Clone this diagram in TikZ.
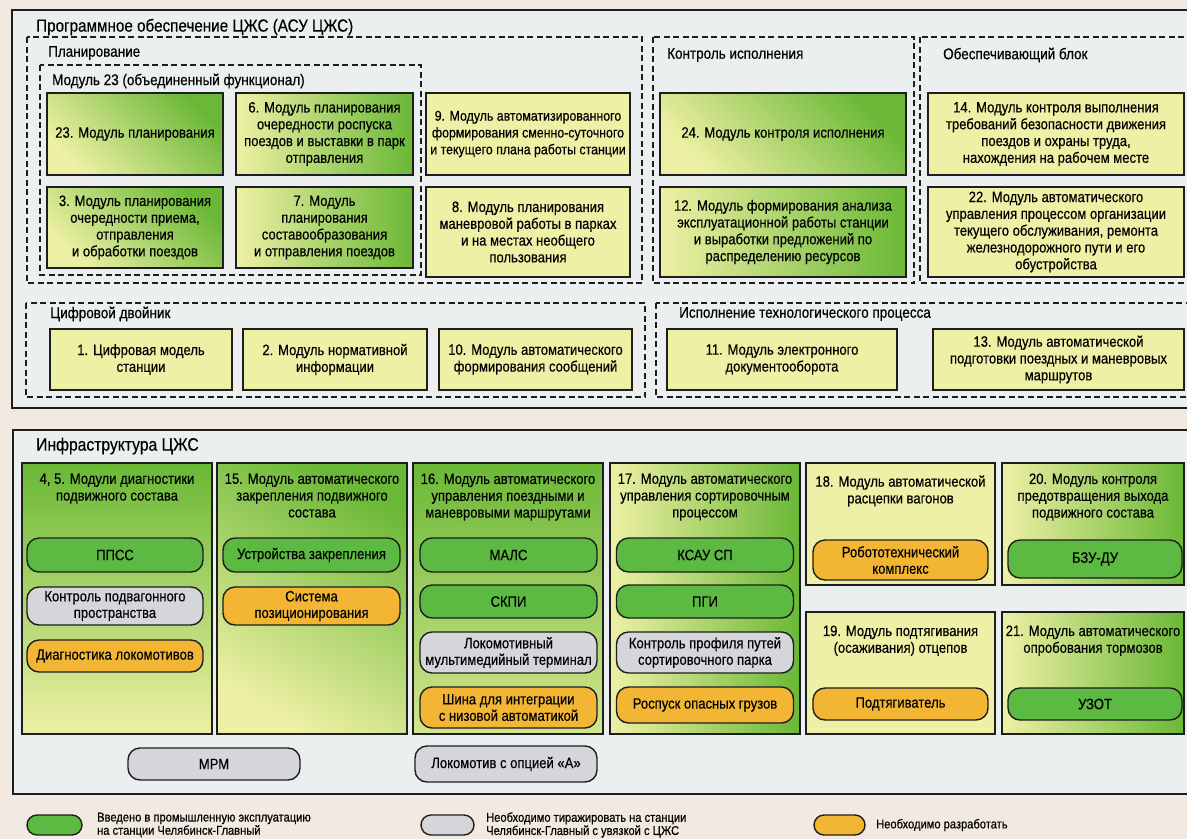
\documentclass[tikz,border=0pt]{standalone}
\usepackage{fontspec}
\setmainfont{Liberation Sans}[FakeStretch=0.87,FakeBold=0.4]
\usetikzlibrary{positioning}

\definecolor{paper}{RGB}{242,233,224}
\definecolor{panel}{RGB}{236,239,239}
\definecolor{boxyellow}{RGB}{238,240,165}
\definecolor{boxgreen}{RGB}{106,184,54}
\definecolor{pillgreen}{RGB}{92,186,66}
\definecolor{pillgrey}{RGB}{212,214,218}
\definecolor{pillorange}{RGB}{243,182,52}
\definecolor{edge}{RGB}{30,30,30}

\begin{document}
\begin{tikzpicture}[x=1pt,y=-1pt]
  \tikzstyle{every node}+=[inner sep=0pt]
  \tikzstyle{title}=[anchor=west, font=\fontsize{17.5}{20}\selectfont]
  \tikzstyle{group}=[anchor=west, font=\fontsize{15.5}{17}\selectfont]
  \tikzstyle{frame}=[draw=edge, line width=1.4pt]
  \tikzstyle{dashframe}=[draw=edge, line width=1.6pt, dash pattern=on 6pt off 3.5pt]
  \tikzstyle{modbox}=[frame, fill=boxyellow, align=center, font=\fontsize{15}{16.8}\selectfont]
  \tikzstyle{gradbox}=[modbox, top color=boxgreen, bottom color=boxyellow, shading angle=-45]
  \tikzstyle{rightbox}=[modbox, left color=boxyellow, right color=boxgreen]
  \tikzstyle{colbox}=[frame, fill=boxyellow, minimum width=190pt, minimum height=271pt]
  \tikzstyle{halfbox}=[frame, fill=boxyellow, minimum width=189pt, minimum height=122pt]
  \tikzstyle{head}=[align=center, font=\fontsize{15}{16.8}\selectfont]
  \tikzstyle{pill}=[frame, rounded corners=12pt, align=center, minimum width=177pt, minimum height=34pt, font=\fontsize{15}{16.5}\selectfont]
  \tikzstyle{okpill}=[pill, fill=pillgreen]
  \tikzstyle{copypill}=[pill, fill=pillgrey]
  \tikzstyle{devpill}=[pill, fill=pillorange]
  \tikzstyle{keypill}=[frame, rounded corners=10pt, minimum width=53pt, minimum height=20pt]
  \tikzstyle{keytext}=[anchor=west, align=left, font=\fontsize{12.8}{13.2}\selectfont]

  \useasboundingbox (0,0) rectangle (1187,839);
  \fill[paper] (0,0) rectangle (1187,839);

  % upper panel
  \draw[frame, fill=panel] (12,10) rectangle (1205,408);
  \node[title] (swtitle) at (36,27) {Программное обеспечение ЦЖС (АСУ ЦЖС)};

  \draw[dashframe] (27,37) rectangle (642,283);
  \node[group] (plantitle) at (48,53) {Планирование};
  \draw[dashframe] (40,65) rectangle (421,275);
  \node[group] (m23title) at (52,81) {Модуль 23 (объединенный функционал)};

  \node[gradbox, minimum width=176pt, minimum height=82pt] (m23) at (135,134) {23. Модуль планирования};
  \node[rightbox, minimum width=177pt, minimum height=82pt] (m6) at (324.5,134) {6. Модуль планирования\\очередности роспуска\\поездов и выставки в парк\\отправления};
  \node[gradbox, minimum width=176pt, minimum height=81pt] (m3) at (135,227.5) {3. Модуль планирования\\очередности приема,\\отправления\\и обработки поездов};
  \node[rightbox, minimum width=177pt, minimum height=81pt] (m7) at (324.5,227.5) {7. Модуль\\планирования\\составообразования\\и отправления поездов};
  \node[modbox, minimum width=204pt, minimum height=82pt, font=\fontsize{14.2}{16.8}\selectfont] (m9) at (528,134) {9. Модуль автоматизированного\\формирования сменно-суточного\\и текущего плана работы станции};
  \node[modbox, minimum width=204pt, minimum height=90pt] (m8) at (528,232) {8. Модуль планирования\\маневровой работы в парках\\и на местах необщего\\пользования};

  \draw[dashframe] (653,37) rectangle (914,283);
  \node[group] (ctrltitle) at (667,55) {Контроль исполнения};
  \node[gradbox, minimum width=246pt, minimum height=82pt] (m24) at (783,134) {24. Модуль контроля исполнения};
  \node[rightbox, minimum width=246pt, minimum height=90pt] (m12) at (783,232) {12. Модуль формирования анализа\\эксплуатационной работы станции\\и выработки предложений по\\распределению ресурсов};

  \draw[dashframe] (920,37) rectangle (1205,283);
  \node[group] (suptitle) at (943,55) {Обеспечивающий блок};
  \node[modbox, minimum width=256pt, minimum height=82pt] (m14) at (1056,134) {14. Модуль контроля выполнения\\требований безопасности движения\\поездов и охраны труда,\\нахождения на рабочем месте};
  \node[modbox, minimum width=256pt, minimum height=90pt] (m22) at (1056,232) {22. Модуль автоматического\\управления процессом организации\\текущего обслуживания, ремонта\\железнодорожного пути и его\\обустройства};

  \draw[dashframe] (26,303) rectangle (645,397);
  \node[group] (twintitle) at (50,314) {Цифровой двойник};
  \node[modbox, minimum width=182pt, minimum height=61pt] (m1) at (141,359.5) {1. Цифровая модель\\станции};
  \node[modbox, minimum width=184pt, minimum height=61pt] (m2) at (335,359.5) {2. Модуль нормативной\\информации};
  \node[modbox, minimum width=193pt, minimum height=61pt] (m10) at (535.5,359.5) {10. Модуль автоматического\\формирования сообщений};

  \draw[dashframe] (656,303) rectangle (1205,397);
  \node[group] (runtitle) at (679,314) {Исполнение технологического процесса};
  \node[modbox, minimum width=230pt, minimum height=61pt] (m11) at (782,359.5) {11. Модуль электронного\\документооборота};
  \node[modbox, minimum width=251pt, minimum height=61pt] (m13) at (1058.5,359.5) {13. Модуль автоматической\\подготовки поездных и маневровых\\маршрутов};

  % lower panel
  \draw[frame, fill=panel] (13,430) rectangle (1205,794);
  \node[title, font=\fontsize{18}{20}\selectfont] (infratitle) at (36,446) {Инфраструктура ЦЖС};

  \node[colbox, top color=boxgreen, bottom color=boxyellow] (c1) at (117,598.5) {};
  \node[colbox, top color=boxgreen, bottom color=boxyellow, shading angle=-30] (c2) at (312,598.5) {};
  \node[colbox, top color=boxgreen, bottom color=boxyellow!80!boxgreen] (c3) at (508,598.5) {};
  \node[colbox, left color=boxyellow, right color=boxgreen] (c4) at (705,598.5) {};
  \node[halfbox] (c18) at (900.5,524) {};
  \node[halfbox, minimum width=182pt, left color=boxyellow, right color=boxgreen] (c20) at (1093,524) {};
  \node[halfbox] (c19) at (900.5,673) {};
  \node[halfbox, minimum width=182pt, left color=boxyellow, right color=boxgreen] (c21) at (1093,673) {};

  \node[head, below=11pt of c1.north] (h1) {4, 5. Модули диагностики\\подвижного состава};
  \node[head, below=11pt of c2.north] (h2) {15. Модуль автоматического\\закрепления подвижного\\состава};
  \node[head, below=11pt of c3.north] (h3) {16. Модуль автоматического\\управления поездными и\\маневровыми маршрутами};
  \node[head, below=11pt of c4.north] (h4) {17. Модуль автоматического\\управления сортировочным\\процессом};
  \node[head, below=13pt of c18.north] (h18) {18. Модуль автоматической\\расцепки вагонов};
  \node[head, below=11pt of c20.north] (h20) {20. Модуль контроля\\предотвращения выхода\\подвижного состава};
  \node[head, below=14pt of c19.north] (h19) {19. Модуль подтягивания\\(осаживания) отцепов};
  \node[head, below=14pt of c21.north] (h21) {21. Модуль автоматического\\опробования тормозов};

  \node[okpill, minimum width=176pt] (ppss) at (115,555) {ППСС};
  \node[copypill, minimum width=176pt, minimum height=38pt] (podv) at (115,606) {Контроль подвагонного\\пространства};
  \node[devpill, minimum width=176pt, minimum height=32pt] (diag) at (115,656) {Диагностика локомотивов};

  \node[okpill] (zakr) at (311.5,555) {Устройства закрепления};
  \node[devpill, minimum height=38pt] (pozi) at (311.5,606) {Система\\позиционирования};

  \node[okpill] (mals) at (508.5,555) {МАЛС};
  \node[okpill, minimum height=33pt] (skpi) at (508.5,601.5) {СКПИ};
  \node[copypill, minimum height=41pt] (term) at (508.5,652.5) {Локомотивный\\мультимедийный терминал};
  \node[devpill, minimum height=41pt] (shina) at (508.5,707.5) {Шина для интеграции\\с низовой автоматикой};

  \node[okpill] (ksau) at (705,555) {КСАУ СП};
  \node[okpill, minimum height=33pt] (pgi) at (705,601.5) {ПГИ};
  \node[copypill, minimum height=41pt] (prof) at (705,652.5) {Контроль профиля путей\\сортировочного парка};
  \node[devpill, minimum height=36pt] (rosp) at (705,705) {Роспуск опасных грузов};

  \node[devpill, minimum width=175pt, minimum height=40pt] (robot) at (900.5,560) {Робототехнический\\комплекс};
  \node[okpill, minimum width=174pt, minimum height=38pt] (bzu) at (1095,559) {БЗУ-ДУ};
  \node[devpill, minimum width=175pt, minimum height=32pt] (podt) at (900.5,704) {Подтягиватель};
  \node[okpill, minimum width=174pt, minimum height=32pt] (uzot) at (1095,704) {УЗОТ};

  \node[copypill, minimum width=172pt, minimum height=32pt] (mrm) at (214,764) {МРМ};
  \node[copypill, minimum width=182pt, minimum height=36pt] (loko) at (506,764) {Локомотив с опцией «А»};

  % legend
  \node[keypill, fill=pillgreen, minimum width=55pt] (keyok) at (54.5,825) {};
  \node[keytext] (keyoktext) at (97,825) {Введено в промышленную эксплуатацию\\на станции Челябинск-Главный};
  \node[keypill, fill=pillgrey] (keycopy) at (447.5,825) {};
  \node[keytext] (keycopytext) at (486,825) {Необходимо тиражировать на станции\\Челябинск-Главный с увязкой с ЦЖС};
  \node[keypill, fill=pillorange, minimum width=51pt] (keydev) at (839.5,825) {};
  \node[keytext] (keydevtext) at (876,825) {Необходимо разработать};
\end{tikzpicture}
\end{document}
